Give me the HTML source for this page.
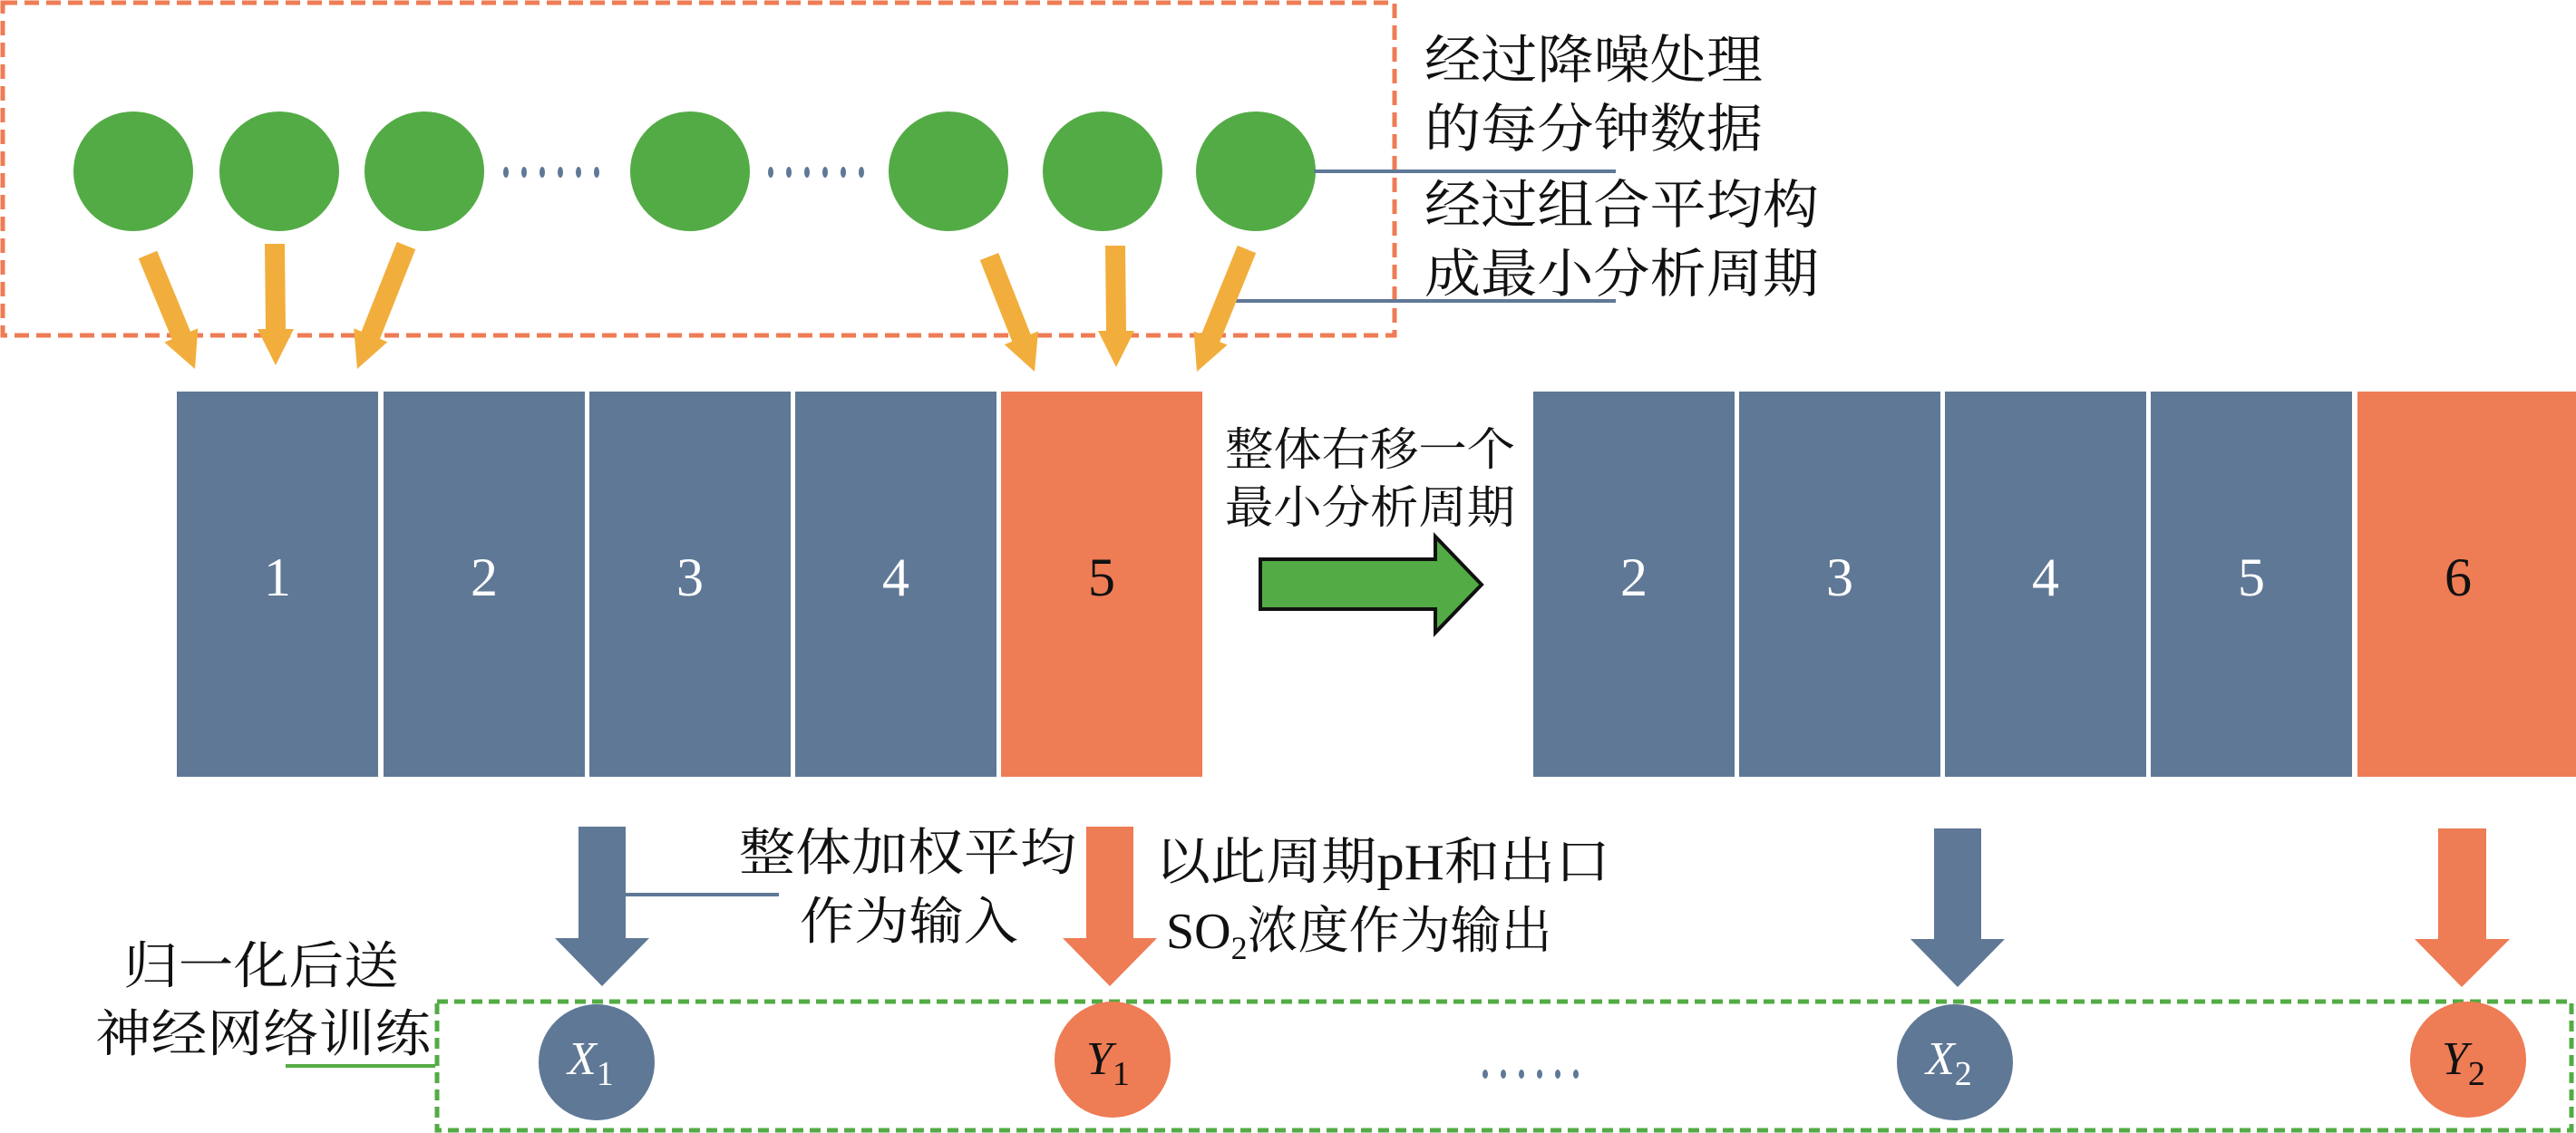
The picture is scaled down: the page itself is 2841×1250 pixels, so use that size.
<!DOCTYPE html>
<html><head><meta charset="utf-8"><style>
html,body{margin:0;padding:0;background:#fff;}
svg{display:block;}
.cj{font-family:"Liberation Serif","Noto Serif CJK SC","Noto Sans CJK SC",serif;fill:#111;}
</style></head><body>
<svg width="2841" height="1250" viewBox="0 0 2841 1250" xmlns="http://www.w3.org/2000/svg">
<!-- orange dashed box -->
<rect x="3" y="3" width="1535" height="367" fill="none" stroke="#EE7C55" stroke-width="5" stroke-dasharray="16,8"/>
<!-- circles -->
<g fill="#53AB45">
<circle cx="147" cy="189" r="66"/><circle cx="308" cy="189" r="66"/><circle cx="468" cy="189" r="66"/>
<circle cx="761" cy="189" r="66"/><circle cx="1046" cy="189" r="66"/><circle cx="1216" cy="189" r="66"/><circle cx="1385" cy="189" r="66"/>
</g>
<g fill="#5F7896">
<ellipse cx="558" cy="190" rx="3" ry="6"/><ellipse cx="578" cy="190" rx="3" ry="6"/><ellipse cx="598" cy="190" rx="3" ry="6"/><ellipse cx="618" cy="190" rx="3" ry="6"/><ellipse cx="638" cy="190" rx="3" ry="6"/><ellipse cx="658" cy="190" rx="3" ry="6"/>
<ellipse cx="850" cy="190" rx="3" ry="6"/><ellipse cx="870" cy="190" rx="3" ry="6"/><ellipse cx="890" cy="190" rx="3" ry="6"/><ellipse cx="910" cy="190" rx="3" ry="6"/><ellipse cx="930" cy="190" rx="3" ry="6"/><ellipse cx="950" cy="190" rx="3" ry="6"/>
</g>
<!-- leader lines -->
<line x1="1449" y1="189" x2="1782" y2="189" stroke="#5F7896" stroke-width="4"/>
<line x1="1361" y1="332" x2="1782" y2="332" stroke="#5F7896" stroke-width="4"/>
<!-- yellow arrows -->
<g fill="#F2AE3C">
<polygon points="152.8,285.2 189.6,374.2 181.3,377.6 215,407 218.3,362.4 210,365.8 173.2,276.8"/>
<polygon points="292,269 293,363 284,363 304,403 324,363 315,363 314,269"/>
<polygon points="437.8,266.9 398.6,365.7 390.2,362.4 394,407 427.4,377.2 419,373.9 458.2,275.1"/>
<polygon points="1080.8,287 1116.2,376.8 1107.8,380.1 1141,410 1145,365.5 1136.6,368.8 1101.2,279"/>
<polygon points="1219,271 1220,365 1211,365 1231,405 1251,365 1242,365 1241,271"/>
<polygon points="1364.8,270.9 1324.9,368.9 1316.6,365.5 1320,410 1353.6,380.5 1345.3,377.1 1385.2,279.1"/>
</g>
<!-- blocks -->
<g>
<rect x="195" y="432" width="222" height="425" fill="#5F7896"/>
<rect x="423" y="432" width="222" height="425" fill="#5F7896"/>
<rect x="650" y="432" width="222" height="425" fill="#5F7896"/>
<rect x="877" y="432" width="222" height="425" fill="#5F7896"/>
<rect x="1104" y="432" width="222" height="425" fill="#EE7C55"/>
<rect x="1691" y="432" width="222" height="425" fill="#5F7896"/>
<rect x="1918" y="432" width="222" height="425" fill="#5F7896"/>
<rect x="2145" y="432" width="222" height="425" fill="#5F7896"/>
<rect x="2372" y="432" width="222" height="425" fill="#5F7896"/>
<rect x="2600" y="432" width="241" height="425" fill="#EE7C55"/>
</g>
<g font-family="Liberation Serif,serif" font-size="60" text-anchor="middle">
<text x="306" y="657" fill="#fff">1</text><text x="534" y="657" fill="#fff">2</text><text x="761" y="657" fill="#fff">3</text><text x="988" y="657" fill="#fff">4</text><text x="1215" y="657" fill="#111">5</text>
<text x="1802" y="657" fill="#fff">2</text><text x="2029" y="657" fill="#fff">3</text><text x="2256" y="657" fill="#fff">4</text><text x="2483" y="657" fill="#fff">5</text><text x="2711" y="657" fill="#111">6</text>
</g>
<!-- green big arrow -->
<path d="M1390,617 L1583,617 L1583,592 L1634,645 L1583,698 L1583,672 L1390,672 Z" fill="#53AB45" stroke="#111" stroke-width="4"/>
<!-- texts -->
<g class="cj" font-size="58">
<text x="1571" y="86" textLength="373" lengthAdjust="spacingAndGlyphs">经过降噪处理</text>
<text x="1571" y="162" textLength="373" lengthAdjust="spacingAndGlyphs">的每分钟数据</text>
<text x="1571" y="246" textLength="435" lengthAdjust="spacingAndGlyphs">经过组合平均构</text>
<text x="1571" y="322" textLength="435" lengthAdjust="spacingAndGlyphs">成最小分析周期</text>
</g>
<g class="cj" font-size="50">
<text x="1351" y="513" textLength="320" lengthAdjust="spacingAndGlyphs">整体右移一个</text>
<text x="1351" y="577" textLength="320" lengthAdjust="spacingAndGlyphs">最小分析周期</text>
</g>
<!-- bottom arrows -->
<g fill="#5F7896">
<path d="M638,912 H690 V1035 H716 L664,1088 L612,1035 H638 Z"/>
<path d="M2133,914 H2185 V1036 H2211 L2159,1089 L2107,1036 H2133 Z"/>
</g>
<g fill="#EE7C55">
<path d="M1198,912 H1250 V1035 H1276 L1224,1088 L1172,1035 H1198 Z"/>
<path d="M2689,914 H2742 V1036 H2768 L2715,1089 L2663,1036 H2689 Z"/>
</g>
<line x1="690" y1="987" x2="859" y2="987" stroke="#5F7896" stroke-width="4"/>
<g class="cj" font-size="56">
<text x="815" y="960" textLength="372" lengthAdjust="spacingAndGlyphs">整体加权平均</text>
<text x="882" y="1036" textLength="241" lengthAdjust="spacingAndGlyphs">作为输入</text>
<text x="1274" y="970" textLength="502" lengthAdjust="spacingAndGlyphs">以此周期pH和出口</text>
<text x="1286" y="1046">SO<tspan font-size="36" dy="12">2</tspan><tspan dy="-12">浓度作为输出</tspan></text>
<text x="136" y="1085" textLength="304" lengthAdjust="spacingAndGlyphs">归一化后送</text>
<text x="105" y="1160" textLength="370" lengthAdjust="spacingAndGlyphs">神经网络训练</text>
</g>
<!-- green dashed box -->
<polyline points="315,1176 480,1176" fill="none" stroke="#53AB45" stroke-width="4"/>
<rect x="482" y="1105" width="2354" height="142" fill="none" stroke="#53AB45" stroke-width="5" stroke-dasharray="12,7"/>
<!-- ellipses -->
<circle cx="658" cy="1172" r="64" fill="#5F7896"/>
<circle cx="1227" cy="1169" r="64" fill="#EE7C55"/>
<circle cx="2156" cy="1172" r="64" fill="#5F7896"/>
<circle cx="2722" cy="1169" r="64" fill="#EE7C55"/>
<g fill="#5F7896">
<ellipse cx="1638" cy="1185" rx="3" ry="5"/><ellipse cx="1658" cy="1185" rx="3" ry="5"/><ellipse cx="1678" cy="1185" rx="3" ry="5"/><ellipse cx="1698" cy="1185" rx="3" ry="5"/><ellipse cx="1718" cy="1185" rx="3" ry="5"/><ellipse cx="1738" cy="1185" rx="3" ry="5"/>
</g>
<g font-family="Liberation Serif,serif" font-size="52">
<text x="626" y="1185" fill="#fff"><tspan font-style="italic">X</tspan><tspan font-size="38" dy="12">1</tspan></text>
<text x="1198" y="1185" fill="#111"><tspan font-style="italic">Y</tspan><tspan font-size="38" dy="12">1</tspan></text>
<text x="2124" y="1185" fill="#fff"><tspan font-style="italic">X</tspan><tspan font-size="38" dy="12">2</tspan></text>
<text x="2693" y="1185" fill="#111"><tspan font-style="italic">Y</tspan><tspan font-size="38" dy="12">2</tspan></text>
</g>
</svg>
</body></html>
